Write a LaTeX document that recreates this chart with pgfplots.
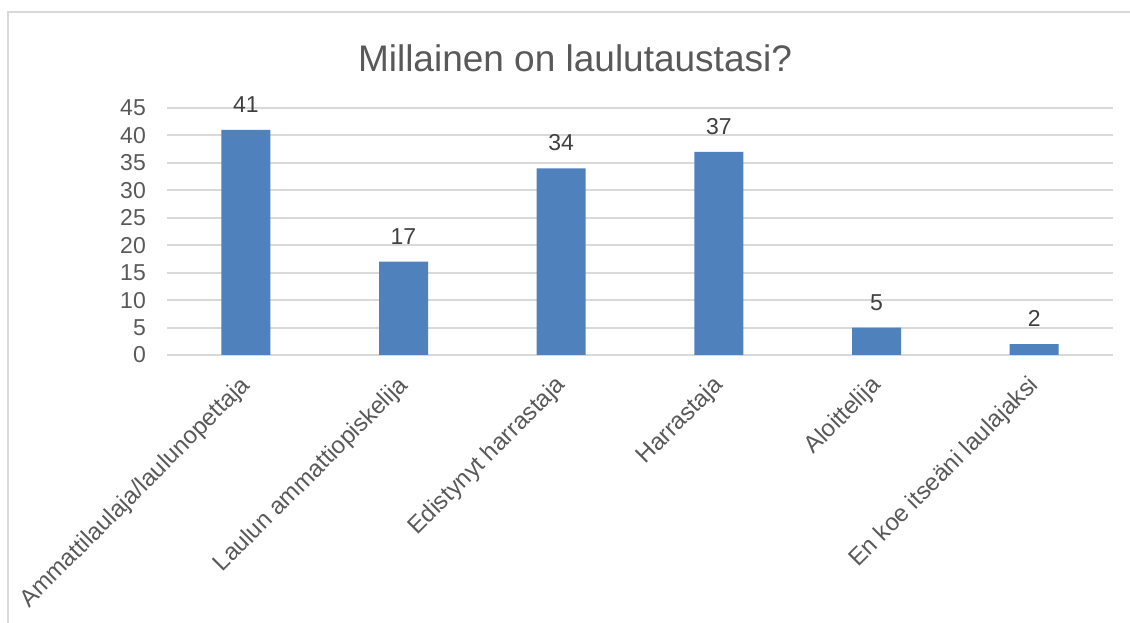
\documentclass[border=0pt]{standalone}
\usepackage{fontspec}
\setmainfont{Liberation Sans}
\usepackage{pgfplots}
\pgfplotsset{compat=1.18}
\definecolor{barblue}{HTML}{4F81BD}
\definecolor{gridgray}{HTML}{D9D9D9}
\definecolor{ticktext}{HTML}{595959}
\definecolor{labeltext}{HTML}{404040}
\begin{document}
\begin{tikzpicture}[x=1pt,y=1pt]
\path[use as bounding box] (0,0) rectangle (1130,623);
\draw[gridgray, line width=2pt] (8,0) -- (8,611) -- (1131,611);
\node[ticktext, font=\fontsize{37}{44}\selectfont] at (575,565) {Millainen on laulutaustasi?};
\begin{axis}[
  at={(167pt,268pt)}, anchor=south west, scale only axis,
  width=946pt, height=247pt,
  xmin=-0.5, xmax=5.5, ymin=0, ymax=45,
  ytick={0,5,...,45},
  xtick=data,
  xticklabels={Ammattilaulaja/laulunopettaja, Laulun ammattiopiskelija, Edistynyt harrastaja, Harrastaja, Aloittelija, En koe itseäni laulajaksi},
  axis line style={draw=none},
  major tick length=0pt,
  ymajorgrids, grid style={gridgray, line width=2pt},
  ybar, bar width=49pt,
  /pgf/number format/assume math mode=true,
  yticklabel style={ticktext, font=\fontsize{23}{27}\selectfont, inner sep=0pt, anchor=east, xshift=-21pt},
  xticklabel style={ticktext, font=\fontsize{24}{28}\selectfont, inner sep=0pt, xshift=1pt, yshift=-27pt, rotate=45, anchor=east},
  nodes near coords,
  nodes near coords style={labeltext, font=\fontsize{23}{27}\selectfont, inner sep=0pt, anchor=south, yshift=17pt},
  clip=false,
]
\addplot[fill=barblue, draw=none] coordinates {(0,41) (1,17) (2,34) (3,37) (4,5) (5,2)};
\end{axis}
\end{tikzpicture}
\end{document}
